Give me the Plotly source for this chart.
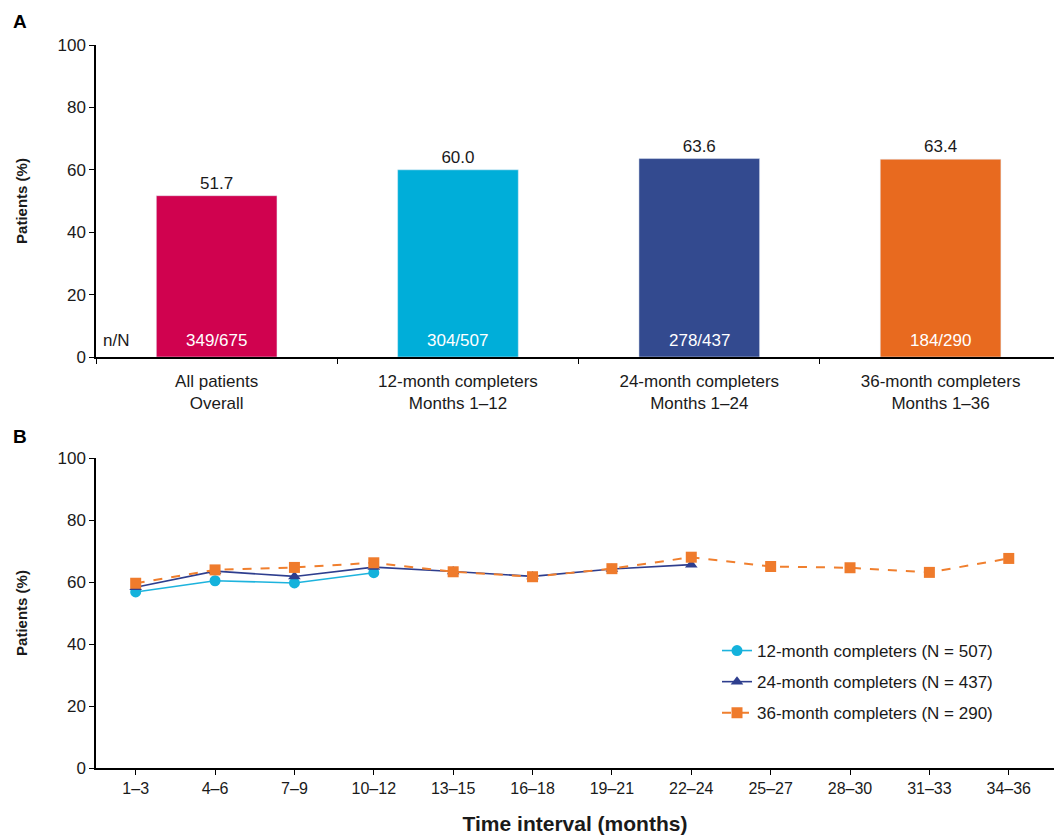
import plotly.graph_objects as go

# Panel A: overall proportion of patients by completer group
groups = ["All patients<br>Overall", "12-month completers<br>Months 1\u201312",
          "24-month completers<br>Months 1\u201324", "36-month completers<br>Months 1\u201336"]
pct = [51.7, 60.0, 63.6, 63.4]
n_resp = [349, 304, 278, 184]
n_total = [675, 507, 437, 290]
bar_colors = ["#D0024F", "#00AED9", "#334A8F", "#E86A1F"]

# Panel B: proportion of patients by 3-month interval
intervals = ["1\u20133", "4\u20136", "7\u20139", "10\u201312", "13\u201315", "16\u201318",
             "19\u201321", "22\u201324", "25\u201327", "28\u201330", "31\u201333", "34\u201336"]
m12 = [56.8, 60.4, 59.7, 63.0]
m24 = [58.3, 63.5, 61.8, 64.8, 63.4, 61.8, 64.2, 65.6]
m36 = [59.6, 63.9, 64.7, 66.2, 63.3, 61.7, 64.3, 68.0, 65.0, 64.6, 63.1, 67.6]

FONT = "Liberation Sans, Arial, sans-serif"
INK = "#1a1a1a"

W, H = 1054, 835
L, R, T, B = 96, 0, 45, 67
ph = H - T - B
pw = W - L - R


def py_paper(py):
    return (H - B - py) / ph


def px_paper(px):
    return (px - L) / pw


fig = go.Figure()

fig.add_trace(go.Bar(
    x=groups, y=pct, marker_color=bar_colors, width=0.5,
    text=[f"{v:.1f}" for v in pct], textposition="outside",
    textfont=dict(family=FONT, size=17, color=INK),
    cliponaxis=False, showlegend=False, xaxis="x", yaxis="y",
))

x_idx = list(range(len(intervals)))
series = [
    ("12-month completers (N = 507)", m12, dict(color="#1DB3DD", width=1.6), "circle", "#14B2DC"),
    ("24-month completers (N = 437)", m24, dict(color="#2E3E8E", width=1.6), "triangle-up", "#2E3E8E"),
    ("36-month completers (N = 290)", m36, dict(color="#F07F2E", width=2, dash="dash"), "square", "#EF7B2C"),
]
for name, vals, line, sym, mcol in series:
    fig.add_trace(go.Scatter(
        x=x_idx[:len(vals)], y=vals, mode="lines+markers", name=name,
        legendgroup=name, line=line,
        marker=dict(symbol=sym, size=11, color=mcol),
        xaxis="x2", yaxis="y2",
    ))

# n/N labels inside the bars
for g, n, N in zip(groups, n_resp, n_total):
    fig.add_annotation(x=g, y=0, xref="x", yref="y", text=f"{n}/{N}",
                       showarrow=False, yanchor="bottom", yshift=5,
                       font=dict(family=FONT, size=17, color="white"))
fig.add_annotation(x=-0.5, y=0, xref="x", yref="y", text="n/N", showarrow=False,
                   xanchor="left", yanchor="bottom", xshift=5, yshift=5,
                   font=dict(family=FONT, size=17, color=INK))

# Panel letters
for letter, ypx in (("A", 22), ("B", 436)):
    fig.add_annotation(x=px_paper(20), y=py_paper(ypx), xref="paper", yref="paper",
                       text=f"<b>{letter}</b>", showarrow=False, xanchor="center", yanchor="middle",
                       font=dict(family=FONT, size=19, color="black"))

axis_common = dict(showline=True, linecolor="black", linewidth=1.5, ticks="outside",
                   tickcolor="black", ticklen=5, tickwidth=1.2, showgrid=False, zeroline=False)
ytitle = dict(text="<b>Patients (%)</b>", font=dict(family=FONT, size=15, color=INK), standoff=26)

fig.update_layout(
    width=W, height=H,
    margin=dict(l=L, r=R, t=T, b=B),
    paper_bgcolor="white", plot_bgcolor="white",
    font=dict(family=FONT, size=17, color=INK),
    xaxis=dict(domain=[0, 1], anchor="y", type="category", range=[-0.5, 3.47],
               tickson="boundaries", ticklabelstandoff=8,
               tickfont=dict(family=FONT, size=17, color=INK), **axis_common),
    yaxis=dict(domain=[py_paper(357), 1], anchor="x", range=[0, 100],
               tickvals=[0, 20, 40, 60, 80, 100], title=ytitle,
               tickfont=dict(family=FONT, size=17, color=INK), **axis_common),
    xaxis2=dict(domain=[0, 1], anchor="y2", range=[-0.5, 11.57],
                tickvals=x_idx, ticktext=intervals,
                tickfont=dict(family=FONT, size=16, color=INK),
                title=dict(text="<b>Time interval (months)</b>",
                           font=dict(family=FONT, size=21, color=INK), standoff=20),
                **axis_common),
    yaxis2=dict(domain=[0, py_paper(458)], anchor="x2", range=[0, 100],
                tickvals=[0, 20, 40, 60, 80, 100], title=ytitle,
                tickfont=dict(family=FONT, size=17, color=INK), **axis_common),
    legend=dict(x=px_paper(998), y=py_paper(633), xanchor="right", yanchor="top",
                font=dict(family=FONT, size=17, color=INK), bgcolor="rgba(0,0,0,0)",
                tracegroupgap=6),
)

fig.write_html("out.html")
